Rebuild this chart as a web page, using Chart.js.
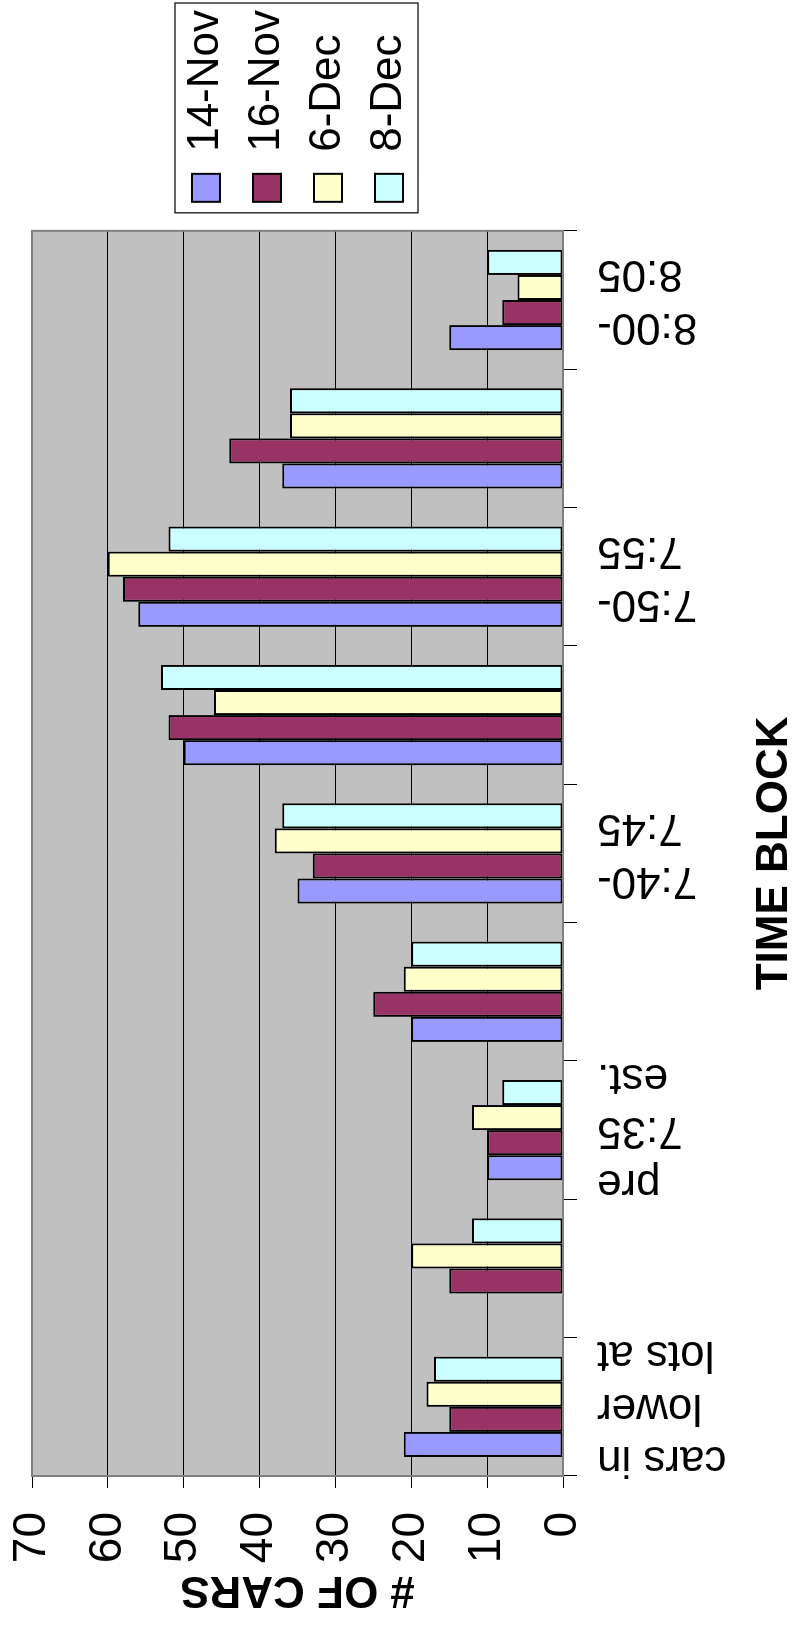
<!DOCTYPE html>
<html>
<head>
<meta charset="utf-8">
<script src="https://cdn.jsdelivr.net/npm/chart.js@4/dist/chart.umd.min.js"></script>
<style>
html,body{margin:0;padding:0;background:#fff;overflow:hidden;width:801px;height:1637px;}
#wrap{position:absolute;left:0;top:0;width:1637px;height:801px;transform-origin:0 0;transform:translate(0px,1637px) rotate(-90deg);}
canvas{display:block;}
</style>
</head>
<body>
<div id="wrap"><canvas id="c" width="1637" height="801"></canvas></div>
<script>
// ---- data ----
const categories = [
  ["cars in", "lower", "lots at"],
  ["cars in", "upper", "lots at"],
  ["pre", "7:35", "est."],
  ["7:35-", "7:40"],
  ["7:40-", "7:45"],
  ["7:45-", "7:50"],
  ["7:50-", "7:55"],
  ["7:55-", "8:00"],
  ["8:00-", "8:05"]
];
const seriesNames = ["14-Nov", "16-Nov", "6-Dec", "8-Dec"];
const nov14 = [21, null, 10, 20, 35, 50, 56, 37, 15];
const nov16 = [15, 15, 10, 25, 33, 52, 58, 44, 8];
const dec6  = [18, 20, 12, 21, 38, 46, 60, 36, 6];
const dec8  = [17, 12, 8, 20, 37, 53, 52, 36, 10];
const valueMin = 0, valueMax = 70, valueStep = 10;
const valueTitle = "# OF CARS";
const categoryTitle = "TIME BLOCK";
</script>
<script>
const FONT = "'Liberation Sans', Arial, Helvetica, sans-serif";
Chart.defaults.font.family = FONT;
Chart.defaults.color = '#000';

const colors = ['#9999FF', '#993366', '#FFFFCC', '#CCFFFF'];
const seriesValues = [nov14, nov16, dec6, dec8];

const decor = {
  id: 'decor',
  beforeDraw(chart) {
    const {ctx, chartArea: a} = chart;
    ctx.save();
    ctx.fillStyle = '#C0C0C0';
    ctx.fillRect(a.left, a.top, a.right - a.left, a.bottom - a.top);
    ctx.restore();
    // center multi-line category labels on their category
    const items = chart.scales.x.getLabelItems();
    items.forEach(it => {
      if (it._centered) return;
      const n = Array.isArray(it.label) ? it.label.length : 1;
      it.textOffset -= (n - 1) * it.font.lineHeight / 2;
      it._centered = true;
    });
  },
  afterDatasetsDraw(chart) {
    const {ctx, chartArea: a} = chart;
    ctx.save();
    ctx.strokeStyle = '#808080';
    ctx.lineWidth = 2;
    ctx.strokeRect(a.left, a.top, a.right - a.left, a.bottom - a.top);
    ctx.restore();
  },
  afterDraw(chart) {
    const lg = chart.legend;
    if (!lg || !lg.legendHitBoxes) return;
    let l = Infinity, t = Infinity, r = -Infinity, b = -Infinity;
    lg.legendHitBoxes.forEach(h => {
      l = Math.min(l, h.left); t = Math.min(t, h.top);
      r = Math.max(r, h.left + h.width); b = Math.max(b, h.top + h.height);
    });
    const ctx = chart.ctx;
    ctx.save();
    ctx.strokeStyle = '#000';
    ctx.lineWidth = 1.2;
    ctx.strokeRect(l - 11, t - 9, (r + 7) - (l - 11), (b + 7) - (t - 9));
    ctx.restore();
  }
};

new Chart(document.getElementById('c'), {
  type: 'bar',
  data: {
    labels: categories,
    datasets: seriesNames.map((name, i) => ({
      label: name,
      data: seriesValues[i],
      backgroundColor: colors[i],
      borderColor: '#000',
      borderWidth: 2,
      borderSkipped: false,
      categoryPercentage: 0.725,
      barPercentage: 1.0
    }))
  },
  options: {
    responsive: false,
    animation: false,
    devicePixelRatio: 1,
    layout: {padding: {left: 17, top: 32, right: 0, bottom: 0}},
    plugins: {
      legend: {
        position: 'right',
        fullSize: false,
        align: 'center',
        labels: {font: {size: 44}, color: '#000', boxWidth: 28, boxHeight: 28, padding: 17}
      },
      tooltip: {enabled: false},
      title: {display: false}
    },
    scales: {
      x: {
        type: 'category',
        position: 'bottom',
        grid: {display: true, drawOnChartArea: false, drawTicks: true, tickLength: 14, tickColor: '#000', offset: true},
        border: {display: true, color: '#808080', width: 2},
        ticks: {
          autoSkip: false, minRotation: 90, maxRotation: 90, padding: 20,
          font: {size: 44}, color: '#000',
          callback: function (v, i) { return i % 2 === 0 ? this.getLabelForValue(v) : ''; }
        },
        title: {display: true, text: categoryTitle, font: {size: 44, weight: 'bold'}, color: '#000', padding: {top: 22, bottom: 0}},
        afterFit(s) { s.height = 238; }
      },
      y: {
        position: 'left',
        min: valueMin, max: valueMax,
        ticks: {stepSize: valueStep, padding: 24, font: {size: 46}, color: '#000'},
        grid: {
          color: (c) => (c.tick && (c.tick.value === valueMin || c.tick.value === valueMax)) ? 'rgba(0,0,0,0)' : '#000',
          lineWidth: 1, tickLength: 12, tickColor: '#000', drawTicks: true
        },
        border: {display: true, color: '#808080', width: 2},
        title: {display: true, text: valueTitle, font: {size: 44, weight: 'bold'}, color: '#000', padding: {top: 4, bottom: 4}},
        afterFit(s) { s.width = 144; s.paddingTop = 0; s.paddingBottom = 0; }
      },
      spacer: {
        type: 'linear', position: 'right', display: true,
        grid: {display: false}, border: {display: false}, ticks: {display: false},
        afterFit(s) { s.width = 12; }
      }
    }
  },
  plugins: [decor]
});
</script>
</body>
</html>
